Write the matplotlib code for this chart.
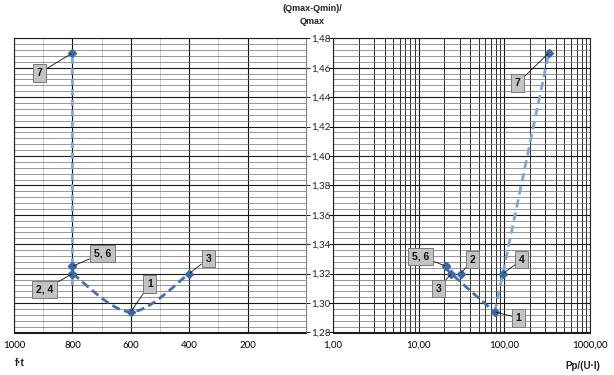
import numpy as np
import matplotlib
matplotlib.use("Agg")
import matplotlib.pyplot as plt
from matplotlib.path import Path
from matplotlib.patches import PathPatch
from matplotlib.ticker import MultipleLocator, FuncFormatter, LogLocator, FixedLocator

plt.rcParams['font.family'] = ['Lato', 'DejaVu Sans']
BOLD_FAMILY = ['Liberation Sans Narrow', 'Liberation Sans', 'DejaVu Sans']

# ---- data ----
point_labels = ["1", "2", "3", "4", "5", "6", "7"]
ft_values = [600, 800, 400, 800, 800, 800, 800]
pp_values = [77.0, 31.0, 24.0, 96.0, 21.0, 21.0, 330.0]
ratio_values = [1.294, 1.320, 1.320, 1.320, 1.325, 1.325, 1.470]

left_dark_order = [1, 0, 2]
left_light_order = [3, 4, 6]
right_dark_order = [4, 2, 0]
right_light_order = [0, 3, 6]

left_xticks = [1000, 800, 600, 400, 200]
right_xticks = [1, 10, 100, 1000]
y_ticks = [1.28, 1.30, 1.32, 1.34, 1.36, 1.38, 1.40, 1.42, 1.44, 1.46, 1.48]

# label groups: (text, index of point, offset in pixels)
left_annots = [("7", 6, (-33, -20)), ("5, 6", 4, (30, 13)), ("2, 4", 1, (-28, -16)),
               ("1", 0, (19, 28)), ("3", 2, (19, 15))]
right_annots = [("7", 6, (-31, -30)), ("5, 6", 4, (-26, 10)), ("2", 1, (12, 14)),
                ("3", 2, (-13, -15)), ("4", 3, (19, 14)), ("1", 0, (24, -6))]

DARK = '#4471AE'
LIGHT = '#7EA6DA'
MARK = '#3C68A4'


def smooth_path(xs, ys, logx=False):
    xs = np.log10(xs) if logx else np.asarray(xs, float)
    P = np.column_stack([xs, np.asarray(ys, float)])
    n = len(P)
    verts = [P[0]]
    codes = [Path.MOVETO]
    for i in range(n - 1):
        p0 = P[i - 1] if i > 0 else P[i]
        p1 = P[i]
        p2 = P[i + 1]
        p3 = P[i + 2] if i + 2 < n else P[i + 1]
        c1 = p1 + (p2 - p0) / 6.0
        c2 = p2 - (p3 - p1) / 6.0
        verts += [c1, c2, p2]
        codes += [Path.CURVE4] * 3
    verts = np.array(verts)
    if logx:
        verts[:, 0] = 10 ** verts[:, 0]
    return Path(verts, codes)


fig = plt.figure(figsize=(6.14, 3.75), dpi=100)
W, H = 614, 375
bottom_px, top_px = 332.5, 38.3
ax1 = fig.add_axes([14 / W, 1 - bottom_px / H, 292 / W, (bottom_px - top_px) / H])
ax2 = fig.add_axes([333 / W, 1 - bottom_px / H, 257 / W, (bottom_px - top_px) / H])

yfmt = FuncFormatter(lambda v, p: f"{v:.2f}".replace('.', ','))

for ax in (ax1, ax2):
    ax.set_ylim(1.28, 1.48)
    ax.yaxis.set_major_locator(FixedLocator(y_ticks))
    ax.yaxis.set_minor_locator(MultipleLocator(0.004))
    ax.grid(which='major', axis='y', color='#1a1a1a', lw=0.8)
    ax.grid(which='minor', axis='y', color='#6e6e6e', lw=0.5)
    ax.set_axisbelow(True)
    for s in ax.spines.values():
        s.set_color('#202020')
        s.set_linewidth(0.8)
    ax.tick_params(axis='x', which='both', length=0, pad=6, labelsize=7)

# left axes
ax1.set_xlim(1000, 0)
ax1.xaxis.set_major_locator(FixedLocator(left_xticks))
ax1.xaxis.set_minor_locator(MultipleLocator(100))
ax1.grid(which='major', axis='x', color='#111111', lw=0.8)
ax1.grid(which='minor', axis='x', color='#c4c4c4', lw=0.6)
ax1.yaxis.tick_right()
ax1.yaxis.set_major_formatter(yfmt)
ax1.tick_params(axis='y', which='major', direction='out', length=3, width=0.7,
                pad=1, labelsize=7, colors='#202020')
ax1.tick_params(axis='y', which='minor', length=0)
ax1.spines['right'].set_color('#808080')

# right axes
ax2.set_xscale('log')
ax2.set_xlim(1, 1000)
ax2.xaxis.set_major_locator(FixedLocator(right_xticks))
ax2.xaxis.set_minor_locator(LogLocator(base=10, subs=np.arange(2, 10)))
ax2.xaxis.set_major_formatter(FuncFormatter(lambda v, p: f"{v:.2f}".replace('.', ',')))
ax2.xaxis.set_minor_formatter(FuncFormatter(lambda v, p: ""))
ax2.grid(which='major', axis='x', color='#111111', lw=0.8)
ax2.grid(which='minor', axis='x', color='#2a2a2a', lw=0.7)
ax2.tick_params(axis='y', which='major', direction='out', length=3, width=0.7,
                labelleft=False)
ax2.tick_params(axis='y', which='minor', length=0)


def draw_series(ax, xvals, order, color, ls, lw, logx):
    xs = [xvals[i] for i in order]
    ys = [ratio_values[i] for i in order]
    path = smooth_path(xs, ys, logx=logx)
    ax.add_patch(PathPatch(path, fill=False, edgecolor=color, lw=lw,
                           linestyle=ls, capstyle='butt', zorder=3))


draw_series(ax1, ft_values, left_dark_order, DARK, (0, (3, 1.6)), 2.0, False)
draw_series(ax1, ft_values, left_light_order, LIGHT, (0, (2.2, 1.6)), 2.0, False)
draw_series(ax2, pp_values, right_dark_order, DARK, (0, (3, 1.6)), 2.0, True)
draw_series(ax2, pp_values, right_light_order, LIGHT, (0, (3, 1.8)), 2.0, True)

ax1.plot(ft_values, ratio_values, linestyle='none', marker='D', ms=3.8,
         color=MARK, zorder=4)
ax2.plot(pp_values, ratio_values, linestyle='none', marker='D', ms=3.8,
         color=MARK, zorder=4)

box = dict(boxstyle='square,pad=0.35', fc='#c3c3c3', ec='#7a7a7a', lw=0.7)
arrow = dict(arrowstyle='-', color='#111111', lw=0.6, shrinkA=0, shrinkB=1)
for ax, xvals, annots in ((ax1, ft_values, left_annots), (ax2, pp_values, right_annots)):
    for txt, idx, off in annots:
        ax.annotate(txt, xy=(xvals[idx], ratio_values[idx]), xytext=off,
                    textcoords='offset pixels', ha='center', va='center',
                    fontsize=7.5, fontweight='bold', family=BOLD_FAMILY,
                    color='#111111', bbox=box, arrowprops=arrow, zorder=5)

fig.text(312 / W, 1 - 15 / H, "(Qmax-Qmin)/\nQmax", ha='center', va='center',
         fontsize=6.5, fontweight='bold', family=BOLD_FAMILY, linespacing=1.5,
         color='#202020')
fig.text(15 / W, 1 - 363 / H, "f·t", ha='left', va='center', fontsize=7,
         fontweight='bold', family=BOLD_FAMILY, color='#202020')
fig.text(600 / W, 1 - 366 / H, "Pp/(U·I)", ha='right', va='center', fontsize=7,
         fontweight='bold', family=BOLD_FAMILY, color='#202020')

fig.savefig("out.png", dpi=100)
